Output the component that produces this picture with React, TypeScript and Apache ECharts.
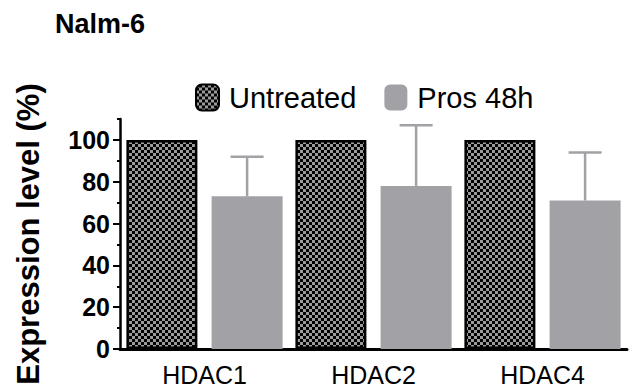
import React, { useEffect, useRef } from "react";
import * as echarts from "echarts";

const categories = ["HDAC1", "HDAC2", "HDAC4"];
const untreated = [100, 100, 100];
const pros48h = [73, 78, 71];
const pros48hSd = [19, 29, 23];
const yTickLabels = [0, 20, 40, 60, 80, 100];

const GRAY = "#a2a1a6";
const BAR_W = 71;
const BAR_GAP = 0.2;

function makeChecker(): HTMLCanvasElement {
  const c = document.createElement("canvas");
  c.width = 6;
  c.height = 6;
  const ctx = c.getContext("2d")!;
  ctx.fillStyle = "#000";
  ctx.fillRect(0, 0, 6, 6);
  ctx.fillStyle = "#9b9b9b";
  ctx.fillRect(0, 0, 3, 3);
  ctx.fillRect(3, 3, 3, 3);
  return c;
}

export default function App() {
  const ref = useRef<HTMLDivElement>(null);
  useEffect(() => {
    if (!ref.current) return;
    const chart = echarts.init(ref.current, undefined, { renderer: "svg" });
    const checker = makeChecker();
    const pattern: any = { image: checker, repeat: "repeat", imageWidth: 6, imageHeight: 6 };
    const offset = (BAR_W + BAR_W * BAR_GAP) / 2;
    const sans = "'Liberation Sans', Arial, sans-serif";
    chart.setOption({
      animation: false,
      title: {
        text: "Nalm-6",
        left: 55,
        top: 10,
        padding: 0,
        textStyle: { fontFamily: sans, fontWeight: "bold", fontSize: 27, color: "#000" },
      },
      legend: {
        left: 195,
        top: 83,
        padding: 0,
        itemWidth: 23,
        itemHeight: 26,
        itemGap: 28,
        textStyle: { fontFamily: sans, fontSize: 29, color: "#000", padding: [0, 0, 0, 5] },
        data: ["Untreated", "Pros 48h"],
      },
      grid: { left: 120, right: 5, top: 119, bottom: 42, containLabel: false },
      xAxis: {
        type: "category",
        data: categories,
        axisLine: { lineStyle: { color: "#000", width: 3 } },
        axisTick: { alignWithLabel: true, length: 6, lineStyle: { color: "#000", width: 2 } },
        axisLabel: { fontFamily: sans, fontSize: 25, color: "#000", margin: 13 },
      },
      yAxis: [
        {
          type: "value",
          min: 0,
          max: 110,
          interval: 10,
          axisLine: { show: true, lineStyle: { color: "#000", width: 2.5 } },
          axisTick: { show: true, length: 3, lineStyle: { color: "#000", width: 2 } },
          axisLabel: { show: false },
          splitLine: { show: false },
          name: "Expression level (%)",
          nameLocation: "middle",
          nameGap: 76,
          nameTextStyle: { fontFamily: sans, fontWeight: "bold", fontSize: 31, color: "#000" },
        },
        {
          type: "value",
          position: "left",
          min: 0,
          max: 110,
          interval: 20,
          axisLine: { show: false },
          axisTick: { show: true, length: 7, customValues: yTickLabels, lineStyle: { color: "#000", width: 2 } },
          axisLabel: {
            customValues: yTickLabels,
            formatter: (v: number) => (v % 20 === 0 && v <= 100 ? String(v) : ""),
            fontFamily: sans,
            fontWeight: "bold",
            fontSize: 25,
            color: "#000",
            margin: 10,
          },
          splitLine: { show: false },
        },
      ],
      series: [
        {
          name: "Untreated",
          type: "bar",
          data: untreated,
          barWidth: BAR_W,
          barGap: `${BAR_GAP * 100}%`,
          itemStyle: { color: pattern, borderColor: "#000", borderWidth: 2.5 },
        },
        {
          name: "Pros 48h",
          type: "bar",
          data: pros48h,
          barWidth: BAR_W,
          itemStyle: { color: GRAY },
        },
        {
          name: "err",
          type: "custom",
          data: categories.map((_, i) => [i, pros48h[i], pros48h[i] + pros48hSd[i]]),
          encode: { x: 0, y: [1, 2] },
          z: 3,
          renderItem: (params: any, api: any) => {
            const base = api.coord([api.value(0), api.value(1)]);
            const top = api.coord([api.value(0), api.value(2)]);
            const cx = base[0] + offset;
            const st = { stroke: GRAY, lineWidth: 2.5 };
            return {
              type: "group",
              children: [
                { type: "line", shape: { x1: cx, y1: base[1], x2: cx, y2: top[1] }, style: st },
                { type: "line", shape: { x1: cx - 16.5, y1: top[1], x2: cx + 16.5, y2: top[1] }, style: st },
              ],
            };
          },
        },
      ],
    });
    return () => chart.dispose();
  }, []);
  return <div ref={ref} style={{ width: 632, height: 391, position: "absolute", left: 0, top: 0 }} />;
}
